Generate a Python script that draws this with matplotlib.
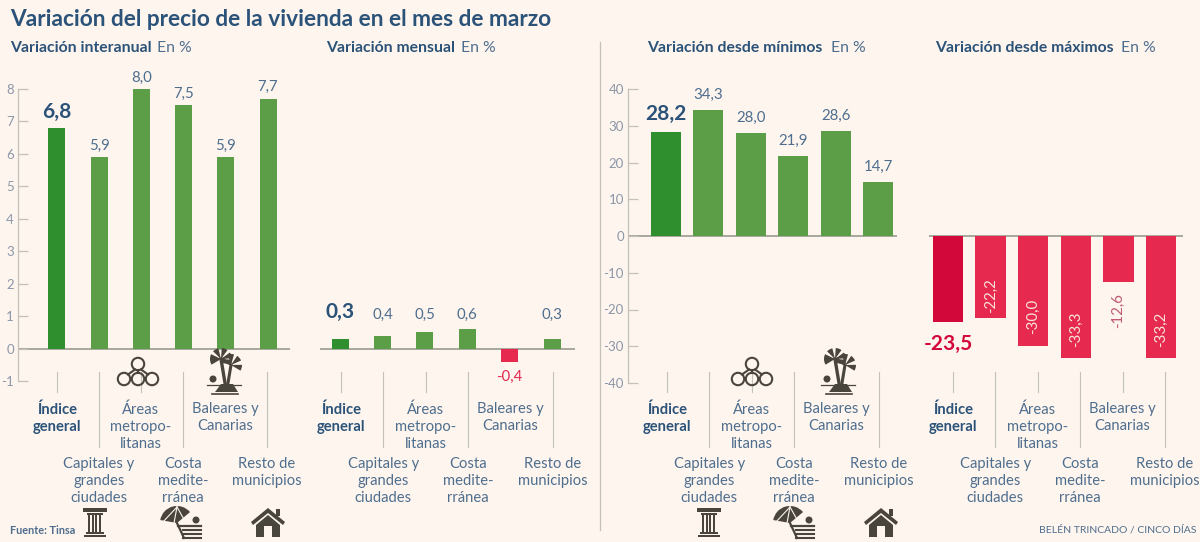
import matplotlib
matplotlib.use("Agg")
import matplotlib.pyplot as plt
from matplotlib.patches import Circle, Polygon, Rectangle, Wedge

# ── Data ──────────────────────────────────────────────────────────────────────
interanual = [6.8, 5.9, 8.0, 7.5, 5.9, 7.7]
mensual = [0.3, 0.4, 0.5, 0.6, -0.4, 0.3]
desde_minimos = [28.2, 34.3, 28.0, 21.9, 28.6, 14.7]
desde_maximos = [-23.5, -22.2, -30.0, -33.3, -12.6, -33.2]

upper_labels = ["Índice\ngeneral", "Áreas\nmetropo-\nlitanas", "Baleares y\nCanarias"]
lower_labels = ["Capitales y\ngrandes\nciudades", "Costa\nmedite-\nrránea", "Resto de\nmunicipios"]
ticks_small = [-1, 0, 1, 2, 3, 4, 5, 6, 7, 8]
ticks_big = [-40, -30, -20, -10, 0, 10, 20, 30, 40]

BG = "#FDF5EE"
NAVY = "#2B5278"
SLATE = "#4F6E8E"
GREEN = "#5B9E47"
GREEN_DK = "#2F8F2F"
RED = "#E5294F"
RED_DK = "#D2083A"
LINE = "#C4C2B8"
BASE = "#9A9A8E"
TICK = "#8D97A8"
ICON = "#4A453C"

plt.rcParams["font.family"] = ["Lato", "DejaVu Sans"]
plt.rcParams["axes.unicode_minus"] = False

W, H = 1200, 542
fig = plt.figure(figsize=(W / 100, H / 100), dpi=100)
fig.patch.set_facecolor(BG)
PX = 0.72  # points per pixel at dpi 100


def px_axes(left, right, top, bottom, zorder=1):
    ax = fig.add_axes([left / W, 1 - bottom / H, (right - left) / W, (bottom - top) / H], zorder=zorder)
    ax.patch.set_alpha(0)
    return ax


# overlay in pixel coordinates, for text, leader lines and pictograms
ov = px_axes(0, W, 0, H, zorder=3)
ov.set_xlim(0, W)
ov.set_ylim(H, 0)
ov.axis("off")


def draw_panel(left, right, top, bottom, ylim, first, step, values, ticks, width):
    ax = px_axes(left, right, top, bottom)
    ax.set_xlim((left - first) / step, (right - first) / step)
    ax.set_ylim(*ylim)
    colors = []
    for i, v in enumerate(values):
        if v >= 0:
            colors.append(GREEN_DK if i == 0 else GREEN)
        else:
            colors.append(RED_DK if i == 0 else RED)
    ax.bar(range(len(values)), values, width=width / step, color=colors, linewidth=0, zorder=2)
    ax.axhline(0, color=BASE, lw=1.2, zorder=1)
    for side in ["top", "right", "bottom"]:
        ax.spines[side].set_visible(False)
    ax.set_xticks([])
    if ticks:
        ax.spines["left"].set_color(LINE)
        ax.spines["left"].set_linewidth(0.9)
        ax.set_yticks(ticks)
        ax.tick_params(axis="y", direction="in", length=7, width=0.9, color=LINE,
                       labelcolor=TICK, labelsize=9.5, pad=3)
    else:
        ax.spines["left"].set_visible(False)
        ax.set_yticks([])
    return ax


def fmt(v):
    return f"{v:.1f}".replace(".", ",")


def value_labels(ax, values, gap, big_gap):
    # gap in pixels from the bar end to the middle of the label
    for i, v in enumerate(values):
        size, weight, col, off = (10.8, "normal", SLATE, gap)
        if i == 0:
            size, weight, col, off = (15, "bold", NAVY, big_gap)
        ax.annotate(fmt(v), (i, v), xytext=(0, off * PX), textcoords="offset points",
                    ha="center", va="center", fontsize=size, fontweight=weight, color=col)


def column_icon(x, y):
    ov.add_patch(Rectangle((x - 12, y - 14), 24, 3.5, color=ICON, lw=0))
    ov.add_patch(Rectangle((x - 8, y - 9.5), 16, 2, color=ICON, lw=0))
    for dx in (-7, -3.5, 0, 3.5):
        ov.add_patch(Rectangle((x + dx, y - 7), 2.2, 17, color=ICON, lw=0))
    ov.add_patch(Rectangle((x - 9, y + 10), 18, 2, color=ICON, lw=0))
    ov.add_patch(Rectangle((x - 11, y + 12.5), 22, 2.5, color=ICON, lw=0))


def umbrella_icon(x, y):
    ov.add_patch(Wedge((x - 3, y + 2), 17, 190, 320, color=ICON, lw=0))
    for ang in (-14, -2, 10):
        ov.plot([x - 4 + ang, x - 3], [y + 2, y - 14], color=BG, lw=0.8, zorder=4)
    ov.plot([x - 3, x + 4], [y + 2, y + 17], color=ICON, lw=1.6)
    ov.add_patch(Circle((x + 16, y - 1), 3.5, color=ICON, lw=0))
    ov.plot([x - 2, x + 21], [y + 5, y + 5], color=ICON, lw=1.6)
    for k in (9, 13, 17):
        ov.plot([x + 3, x + 21], [y + k, y + k], color=ICON, lw=1.5)


def house_icon(x, y):
    ov.add_patch(Polygon([(x - 17, y), (x, y - 14), (x + 17, y), (x + 15, y + 3), (x, y - 9), (x - 15, y + 3)],
                         color=ICON, lw=0))
    ov.add_patch(Rectangle((x + 8, y - 13), 3.5, 7, color=ICON, lw=0))
    ov.add_patch(Polygon([(x - 12, y + 3), (x, y - 7), (x + 12, y + 3), (x + 12, y + 15), (x + 4, y + 15),
                          (x + 4, y + 4), (x - 4, y + 4), (x - 4, y + 15), (x - 12, y + 15)], color=ICON, lw=0))


def circles_icon(x, y):
    for cx, cy in [(x, y - 8), (x - 14, y + 7), (x, y + 7), (x + 14, y + 7)]:
        ov.add_patch(Circle((cx, cy), 6.2, fill=False, ec=ICON, lw=1.5, zorder=4))
    ov.plot([x - 3, x - 10], [y - 2.5, y + 2.5], color=ICON, lw=1.5)
    ov.plot([x, x], [y - 2, y + 1], color=ICON, lw=1.5)
    ov.plot([x + 3, x + 10], [y - 2.5, y + 2.5], color=ICON, lw=1.5)


def palm_icon(x, y):
    ov.plot([x + 1, x - 3], [y + 12, y - 12], color=ICON, lw=2.4)
    ov.plot([x + 4, x + 7], [y + 12, y - 6], color=ICON, lw=2.2)
    for ang in (-170, -120, -70, -20, 20, 165):
        ov.add_patch(Wedge((x - 3, y - 12), 11, ang - 16, ang + 16, color=ICON, lw=0))
    for ang in (-150, -90, -40, 15):
        ov.add_patch(Wedge((x + 7, y - 6), 11, ang - 16, ang + 16, color=ICON, lw=0))
    ov.add_patch(Circle((x - 11, y + 8), 3.5, color=ICON, lw=0))
    ov.add_patch(Polygon([(x - 9, y + 21), (x - 3, y + 13), (x + 9, y + 13), (x + 14, y + 21)], color=ICON, lw=0))
    ov.plot([x - 17, x + 17], [y + 14, y + 14], color=ICON, lw=0.9)
    ov.plot([x - 12, x + 14], [y + 22.5, y + 22.5], color=ICON, lw=1.2)


def category_labels(first, step, short_lines):
    for k, txt in enumerate(upper_labels):
        ov.text(first + 2 * k * step, 402, txt, ha="center", va="top", fontsize=10.6,
                color=NAVY if k == 0 else SLATE, fontweight="bold" if k == 0 else "normal",
                linespacing=1.29)
    for k in short_lines:
        ov.plot([first + k * step] * 2, [372, 392], color=LINE, lw=0.8, zorder=1)
    for k, txt in enumerate(lower_labels):
        cx = first + (2 * k + 1) * step
        ov.text(cx, 457, txt, ha="center", va="top", fontsize=10.6, color=SLATE, linespacing=1.29)
        ov.plot([cx, cx], [372, 447], color=LINE, lw=0.8, zorder=1)


def heading(x, text, x2):
    ov.text(x, 48, text, ha="left", va="center", fontsize=11.3, fontweight="bold", color=NAVY)
    ov.text(x2, 48, "En %", ha="left", va="center", fontsize=11.3, color=SLATE)


# ── Panels ────────────────────────────────────────────────────────────────────
ax1 = draw_panel(18, 290, 89, 381, (-1, 8), 57, 42.2, interanual, ticks_small, 17)
value_labels(ax1, interanual, 11.5, 16)

ax2 = draw_panel(320, 575, 89, 381, (-1, 8), 340, 42.4, mensual, None, 17)
for i, v in enumerate(mensual):
    if v < 0:
        ax2.annotate(fmt(v), (i, v), xytext=(0, -15 * PX), textcoords="offset points",
                     ha="center", va="center", fontsize=10.8, color=RED)
    elif i == 0:
        ax2.text(i, 1.13, fmt(v), ha="center", va="center", fontsize=15, fontweight="bold", color=NAVY)
    else:
        ax2.text(i, 1.04, fmt(v), ha="center", va="center", fontsize=10.8, color=SLATE)

ax3 = draw_panel(628, 897, 89, 383, (-40, 40), 666, 42.4, desde_minimos, ticks_big, 30)
value_labels(ax3, desde_minimos, 15, 18)

ax4 = draw_panel(929, 1183, 89, 383, (-40, 40), 948, 42.6, desde_maximos, None, 30.5)
ax4.annotate(fmt(desde_maximos[0]), (0, desde_maximos[0]), xytext=(0, -22 * PX), textcoords="offset points",
             ha="center", va="center", fontsize=15, fontweight="bold", color=RED_DK)
# rotated labels sit inside the bar, except the short one, which goes below it
inside_pad = [None, 5, 12, 11, None, 11]
for i, v in enumerate(desde_maximos):
    if i == 0:
        continue
    if inside_pad[i] is None:
        ax4.annotate(fmt(v), (i, v), xytext=(0, -11 * PX), textcoords="offset points",
                     ha="center", va="top", rotation=90, fontsize=10.8, color="#BF5A72")
    else:
        ax4.annotate(fmt(v), (i, v), xytext=(0, inside_pad[i] * PX), textcoords="offset points",
                     ha="center", va="bottom", rotation=90, fontsize=10.8, color="#FBE3D8")

category_labels(57, 42.0, [0, 2])
category_labels(341, 42.4, [0, 2])
category_labels(667, 42.4, [0, 2])
category_labels(953, 42.4, [0, 2, 4])

# ── Text ──────────────────────────────────────────────────────────────────────
ov.text(10, 20, "Variación del precio de la vivienda en el mes de marzo", ha="left", va="center",
        fontsize=16.3, fontweight="bold", color=NAVY)
heading(10, "Variación interanual", 157)
heading(326, "Variación mensual", 461)
heading(647, "Variación desde mínimos", 831)
heading(935, "Variación desde máximos", 1121)
ov.plot([600, 600], [42, 530], color=LINE, lw=0.9)
ov.text(10, 530, "Fuente: Tinsa", ha="left", va="center", fontsize=7.8, fontweight="bold", color=SLATE)
ov.text(1196, 530, "BELÉN TRINCADO / CINCO DÍAS", ha="right", va="center", fontsize=7.5, color=SLATE)

# ── Pictograms ────────────────────────────────────────────────────────────────
for x in (95, 709):
    column_icon(x, 522)
for x in (180, 793):
    umbrella_icon(x, 521)
for x in (268, 881):
    house_icon(x, 522)
for x in (138, 752):
    circles_icon(x, 372)
for x in (224, 838):
    palm_icon(x, 371)

fig.savefig("out.png", dpi=100, facecolor=BG)
